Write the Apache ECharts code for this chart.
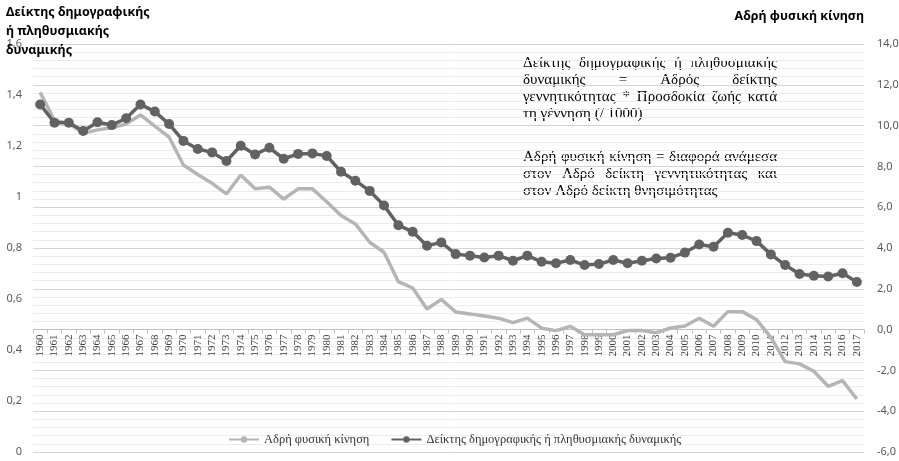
<!DOCTYPE html>
<html><head><meta charset="utf-8">
<script src="https://cdn.jsdelivr.net/npm/echarts@6/dist/echarts.min.js"></script>
<style>html,body{margin:0;padding:0;background:#fff}#c{width:899px;height:461px}</style>
</head><body><div id="c"></div>
<script>
const years = ["1960","1961","1962","1963","1964","1965","1966","1967","1968","1969",
  "1970","1971","1972","1973","1974","1975","1976","1977","1978","1979",
  "1980","1981","1982","1983","1984","1985","1986","1987","1988","1989",
  "1990","1991","1992","1993","1994","1995","1996","1997","1998","1999",
  "2000","2001","2002","2003","2004","2005","2006","2007","2008","2009",
  "2010","2011","2012","2013","2014","2015","2016","2017"];

// Δείκτης δημογραφικής ή πληθυσμιακής δυναμικής (left axis)
const dynamicsIndex = [1.363,1.291,1.291,1.259,1.293,1.282,1.309,1.363,1.335,1.286,
  1.220,1.188,1.175,1.141,1.201,1.167,1.193,1.150,1.169,1.171,
  1.161,1.099,1.064,1.024,0.967,0.889,0.864,0.809,0.822,0.776,
  0.770,0.763,0.770,0.750,0.770,0.746,0.740,0.753,0.733,0.737,
  0.753,0.740,0.750,0.759,0.762,0.782,0.814,0.805,0.860,0.851,
  0.827,0.775,0.733,0.698,0.691,0.688,0.701,0.667];

// Αδρή φυσική κίνηση (right axis)
const naturalIncrease = [11.63,10.25,10.11,9.62,9.79,9.89,10.08,10.52,9.97,9.43,
  8.07,7.60,7.17,6.65,7.58,6.90,6.98,6.40,6.90,6.90,
  6.27,5.59,5.18,4.28,3.79,2.35,2.04,1.01,1.48,0.86,
  0.77,0.67,0.56,0.34,0.56,0.07,-0.05,0.16,-0.25,-0.25,
  -0.25,-0.05,-0.05,-0.15,0.08,0.18,0.56,0.16,0.88,0.88,
  0.49,-0.38,-1.57,-1.68,-2.04,-2.78,-2.50,-3.40];

const leftAxisTicks = [0, 1.6, 0.2];   // min, max, step
const rightAxisTicks = [-6, 14, 2];

const seriesNames = ["Αδρή φυσική κίνηση", "Δείκτης δημογραφικής ή πληθυσμιακής δυναμικής"];
const leftTitleLines = ["Δείκτης δημογραφικής", "ή πληθυσμιακής", "δυναμικής"];
const rightTitle = "Αδρή φυσική κίνηση";
const noteLines = [
  ["Δείκτης δημογραφικής ή πληθυσμιακής", true],
  ["δυναμικής = Αδρός δείκτης", true],
  ["γεννητικότητας * Προσδοκία ζωής κατά", true],
  ["τη γέννηση (/ 1000)", false],
  ["Αδρή φυσική κίνηση = διαφορά ανάμεσα", true],
  ["στον Αδρό δείκτη γεννητικότητας και", true],
  ["στον Αδρό δείκτη θνησιμότητας", false]
];
const noteY = [63, 80, 97, 114, 157, 174, 191];

const CHART_H = 461, GRID_TOP = 44, GRID_BOTTOM = 9;
// the category axis crosses the right value axis at 0
const plotH = CHART_H - GRID_TOP - GRID_BOTTOM;
const xAxisOffset = -plotH * (0 - rightAxisTicks[0]) / (rightAxisTicks[1] - rightAxisTicks[0]);

const noteFont = "15px 'Liberation Serif'";
const measureCtx = document.createElement('canvas').getContext('2d');
function lineElements(text, justifyIt, x0, width, y) {
  measureCtx.font = noteFont;
  const words = text.split(' ');
  const out = [];
  if (!justifyIt) {
    out.push({type:'text', x:x0, y:y, silent:true, style:{text:text, font:noteFont, fill:'#000', textVerticalAlign:'middle', verticalAlign:'middle'}});
    return out;
  }
  const ws = words.map(w => measureCtx.measureText(w).width);
  const total = ws.reduce((a,b)=>a+b,0);
  const gap = (width - total) / (words.length - 1);
  let x = x0;
  words.forEach((w,i) => {
    out.push({type:'text', x:x, y:y, silent:true, style:{text:w, font:noteFont, fill:'#000', textVerticalAlign:'middle', verticalAlign:'middle'}});
    x += ws[i] + gap;
  });
  return out;
}

const graphics = [];
noteLines.forEach((l,i) => graphics.push(...lineElements(l[0], l[1], 523, 254, noteY[i])));
leftTitleLines.forEach((t,i) => graphics.push({type:'text', x:6, y:12 + i*19, silent:true, z:100,
  style:{text:t, font:"bold 12.5px 'Noto Sans'", fill:'#000', textVerticalAlign:'middle', verticalAlign:'middle'}}));
graphics.push({type:'text', x:864, y:16, silent:true,
  style:{text:rightTitle, font:"bold 12.5px 'Noto Sans'", fill:'#000', textAlign:'right', align:'right', textVerticalAlign:'middle', verticalAlign:'middle'}});

const chart = echarts.init(document.getElementById('c'), null, {renderer:'canvas'});
chart.setOption({
  animation: false,
  backgroundColor: '#fff',
  grid: {left: 33, right: 35, top: GRID_TOP, bottom: GRID_BOTTOM, containLabel: false, outerBoundsMode: 'none'},
  legend: {
    left: 228, top: 433, padding: 0, itemWidth: 30, itemHeight: 8, itemGap: 21,
    textStyle: {fontFamily: 'Liberation Serif', fontSize: 12.5, color: '#333'},
    data: seriesNames
  },
  xAxis: {
    type: 'category', data: years, boundaryGap: true, position: 'bottom', offset: xAxisOffset,
    axisLine: {onZero: false, lineStyle: {color: '#bfbfbf', width: 1}},
    axisTick: {show: true, length: 4, lineStyle: {color: '#bfbfbf'}},
    axisLabel: {rotate: 90, interval: 0, margin: 5, fontFamily: 'Liberation Serif', fontSize: 11, color: '#404040', hideOverlap: false},
    splitLine: {show: false}
  },
  yAxis: [{
    type: 'value', position: 'left',
    min: leftAxisTicks[0], max: leftAxisTicks[1], interval: leftAxisTicks[2],
    axisLine: {show: false}, axisTick: {show: false}, splitLine: {show: false},
    axisLabel: {margin: 11, fontFamily: 'Noto Sans', fontSize: 11, color: '#595959',
      formatter: v => String(+v.toFixed(1)).replace('.', ',')}
  }, {
    type: 'value', position: 'right',
    min: rightAxisTicks[0], max: rightAxisTicks[1], interval: rightAxisTicks[2],
    axisLine: {show: false}, axisTick: {show: false},
    splitLine: {show: true, lineStyle: {color: '#d4d4d4', width: 1}},
    minorTick: {show: false, splitNumber: 5},
    minorSplitLine: {show: true, lineStyle: {color: '#ececec', width: 1}},
    axisLabel: {margin: 13, fontFamily: 'Noto Sans', fontSize: 11, color: '#595959',
      formatter: v => v.toFixed(1).replace('.', ',')}
  }],
  series: [{
    name: seriesNames[0], type: 'line', yAxisIndex: 1, data: naturalIncrease,
    symbol: 'none', lineStyle: {color: '#b5b5b5', width: 3.5}, itemStyle: {color: '#b5b5b5'}
  }, {
    name: seriesNames[1], type: 'line', yAxisIndex: 0, data: dynamicsIndex,
    symbol: 'circle', symbolSize: 10, showAllSymbol: true,
    lineStyle: {color: '#626262', width: 3.5}, itemStyle: {color: '#626262'}
  }],
  graphic: graphics
});
</script>
</body></html>
